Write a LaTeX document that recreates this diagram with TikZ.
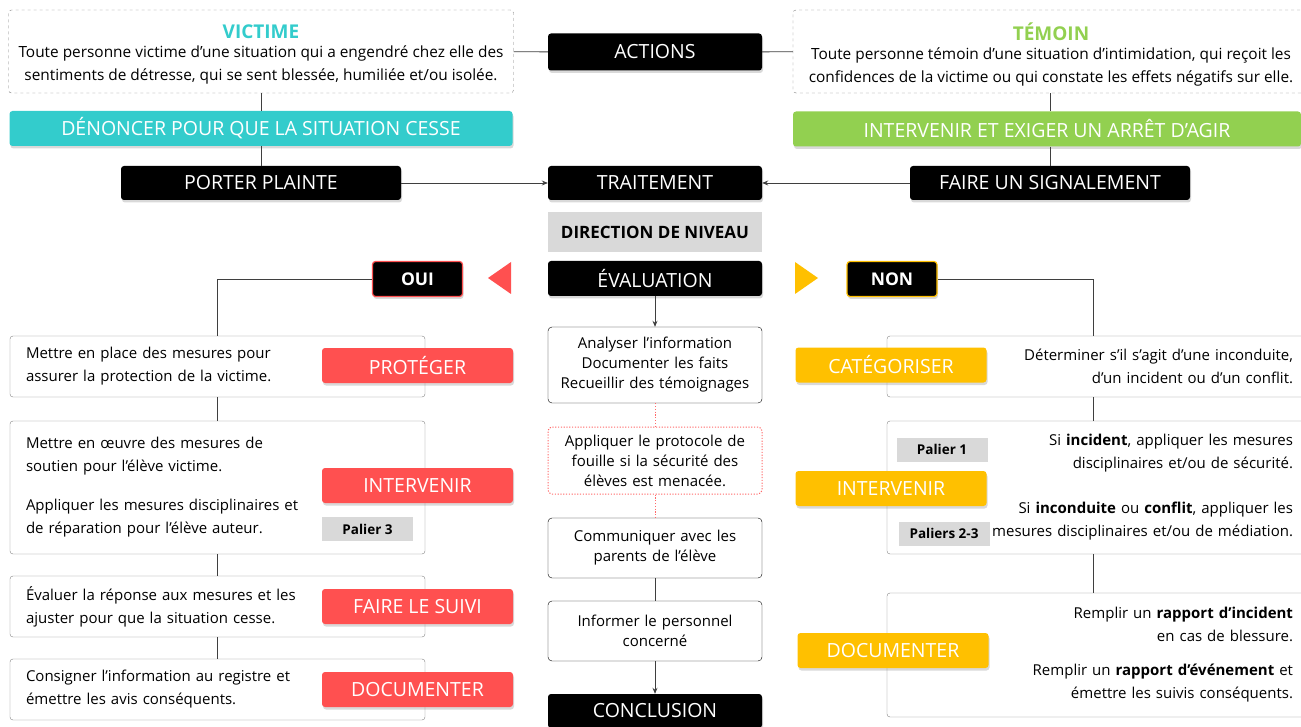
\documentclass[tikz,border=0pt]{standalone}
\usepackage{fontspec}
\setmainfont{Open Sans}
\usetikzlibrary{arrows.meta,shadows}
\definecolor{victcol}{HTML}{33CCCC}
\definecolor{temcol}{HTML}{92D050}
\definecolor{ouicol}{HTML}{FF5050}
\definecolor{noncol}{HTML}{FFC000}
\definecolor{palcol}{HTML}{D9D9D9}
\definecolor{linecol}{HTML}{3F3F3F}
\definecolor{bordcol}{HTML}{808080}
\newcommand{\fbody}{\fontsize{15}{23}\selectfont}
\newcommand{\ftop}{\fontsize{15.4}{23}\selectfont}
\newcommand{\fmid}{\fontsize{15}{20}\selectfont}
\newcommand{\flabel}{\fontsize{19.5}{21}\selectfont}
\newcommand{\fpalier}{\fontsize{13.5}{15}\selectfont\bfseries}
\newcommand{\ftitle}{\fontsize{19}{21}\selectfont\bfseries}
\tikzset{shade/.style={drop shadow={opacity=0.3, shadow xshift=1pt, shadow yshift=-2.5pt}},
blackbox/.style={fill=black, text=white, rounded corners=3pt, minimum width=214pt, minimum height=#1, inner sep=0pt, font=\flabel, shade},
blackbox/.default={35pt},
labelbox/.style={fill=#1, text=white, rounded corners=3pt, minimum width=191pt, minimum height=35pt, inner sep=0pt, font=\flabel, shade},
choice/.style={fill=black, text=white, draw=#1, line width=1.2pt, rounded corners=3pt, minimum width=90pt, minimum height=35pt, inner sep=0pt, font=\fontsize{17.5}{19}\selectfont\bfseries, shade},
dashbox/.style={draw=bordcol, dashed, rounded corners=3pt, minimum height=83pt, inner sep=0pt},
toptext/.style={align=center, font=\ftop, inner sep=0pt},
leftbox/.style={draw=bordcol, rounded corners=3pt, text width=383pt, inner xsep=16pt, inner ysep=0pt, align=left, font=\fbody, minimum height=#1},
rightbox/.style={draw=bordcol, rounded corners=3pt, text width=390pt, inner xsep=16pt, inner ysep=0pt, align=right, font=\fbody, minimum height=#1},
midbox/.style={draw=black, rounded corners=4pt, text width=204pt, inner xsep=5pt, inner ysep=0pt, align=center, font=\fmid, minimum height=#1},
palier/.style={fill=palcol, font=\fpalier, minimum width=91pt, minimum height=24pt, inner sep=0pt},
conn/.style={draw=linecol, line width=0.8pt},
arrow/.style={conn, -{Stealth[length=6pt,width=5pt]}},
redline/.style={draw=ouicol!85, line width=1pt, dash pattern=on 1.2pt off 1.6pt}}

\begin{document}
\begin{tikzpicture}[x=1pt,y=-1pt]
\useasboundingbox (0,0) rectangle (1301,727);
\clip (0,0) rectangle (1301,727);

% top row
\node[dashbox, minimum width=505pt] (victime) at (261,51.5) {};
\node[toptext] (victimetxt) at (261,54.5)
  {{\ftitle\color{victcol}VICTIME}\\[-4pt]Toute personne victime d’une situation qui a engendré chez elle des\\sentiments de détresse, qui se sent blessée, humiliée et/ou isolée.};
\node[dashbox, minimum width=516pt] (temoin) at (1051,51.5) {};
\node[toptext] (temointxt) at (1051,54.5)
  {{\ftitle\color{temcol}TÉMOIN}\\[-4pt]Toute personne témoin d’une situation d’intimidation, qui reçoit les\\confidences de la victime ou qui constate les effets négatifs sur elle.};
\node[blackbox=37pt] (actions) at (655,52) {ACTIONS};

\node[labelbox=victcol, minimum width=503pt] (denoncer) at (261,128.5) {DÉNONCER POUR QUE LA SITUATION CESSE};
\node[labelbox=temcol, minimum width=508pt] (agir) at (1047,129) {INTERVENIR ET EXIGER UN ARRÊT D’AGIR};

\node[blackbox=34pt, minimum width=280pt] (plainte) at (261,183) {PORTER PLAINTE};
\node[blackbox=34pt] (traitement) at (655,183) {TRAITEMENT};
\node[blackbox=34pt, minimum width=280pt] (signal) at (1050,183) {FAIRE UN SIGNALEMENT};

\node[fill=palcol, minimum width=214pt, minimum height=40pt, font=\fontsize{17}{19}\selectfont\bfseries] (direction) at (655,232) {DIRECTION DE NIVEAU};
\node[blackbox] (evaluation) at (655,278.5) {ÉVALUATION};
\node[choice=ouicol] (oui) at (417.5,279) {OUI};
\node[choice=noncol] (non) at (892,279) {NON};
\fill[ouicol] (511,262) -- (511,294) -- (488,278) -- cycle;
\fill[noncol] (795,262) -- (795,294) -- (818,278) -- cycle;

% left column
\node[leftbox=61pt] (l1) at (217.5,366.5) {Mettre en place des mesures pour\\assurer la protection de la victime.};
\node[leftbox=133pt] (l2) at (217.5,487.5) {Mettre en œuvre des mesures de\\soutien pour l’élève victime.\\[16pt]Appliquer les mesures disciplinaires et\\de réparation pour l’élève auteur.};
\node[leftbox=61pt] (l3) at (217.5,606.5) {Évaluer la réponse aux mesures et les\\ajuster pour que la situation cesse.};
\node[leftbox=61pt] (l4) at (217.5,689.5) {Consigner l’information au registre et\\émettre les avis conséquents.};
\node[labelbox=ouicol] (proteger) at (417.5,365.5) {PROTÉGER};
\node[labelbox=ouicol] (interv) at (417.5,485.5) {INTERVENIR};
\node[palier] (palier3) at (367.5,529) {Palier 3};
\node[labelbox=ouicol] (suivi) at (417.5,606.5) {FAIRE LE SUIVI};
\node[labelbox=ouicol] (docl) at (417.5,689.5) {DOCUMENTER};

% middle column
\node[midbox=76pt] (c1) at (655,365) {Analyser l’information\\Documenter les faits\\Recueillir des témoignages};
\node[midbox=67pt, redline] (c2) at (655,460.5) {Appliquer le protocole de\\fouille si la sécurité des\\élèves est menacée.};
\node[midbox=60pt] (c3) at (655,548) {Communiquer avec les\\parents de l’élève};
\node[midbox=60pt] (c4) at (655,631) {Informer le personnel\\concerné};
\node[blackbox=34pt] (conclusion) at (655,711) {CONCLUSION};

% right column
\node[rightbox=61pt] (r1) at (1098,366.5) {Déterminer s’il s’agit d’une inconduite,\\d’un incident ou d’un conflit.};
\node[rightbox=133pt] (r2) at (1098,487.5) {Si \textbf{incident}, appliquer les mesures\\disciplinaires et/ou de sécurité.\\[22pt]Si \textbf{inconduite} ou \textbf{conflit}, appliquer les\\mesures disciplinaires et/ou de médiation.};
\node[rightbox=124pt] (r3) at (1098,655) {Remplir un \textbf{rapport d’incident}\\en cas de blessure.\\[11pt]Remplir un \textbf{rapport d’événement} et\\émettre les suivis conséquents.};
\node[labelbox=noncol] (categ) at (891,365) {CATÉGORISER};
\node[palier] (palier1) at (942,449.5) {Palier 1};
\node[labelbox=noncol] (intervr) at (891,488.5) {INTERVENIR};
\node[palier] (palier23) at (944,533.5) {Paliers 2-3};
\node[labelbox=noncol] (docr) at (893,650.5) {DOCUMENTER};

% connectors
\coordinate (rdrop) at (1093,0);
\draw[conn] (victime) -- (actions);
\draw[conn] (actions) -- (temoin);
\draw[conn] (victime) -- (denoncer);
\draw[conn] (denoncer) -- (plainte);
\draw[conn] (temoin.south -| signal) -- (agir.north -| signal);
\draw[conn] (agir.south -| signal) -- (signal);
\draw[arrow] (plainte) -- (traitement);
\draw[arrow] (signal) -- (traitement);
\draw[arrow] (evaluation) -- (c1);
\draw[conn] (oui.west) -| (l1.north);
\draw[conn] (non.east) -| (rdrop |- r1.north);
\foreach \a/\b in {l1/l2,l2/l3,l3/l4}
    \draw[conn] (\a) -- (\b);
\foreach \a/\b in {r1/r2,r2/r3}
    \draw[conn] (rdrop |- \a.south) -- (rdrop |- \b.north);
\draw[redline] (c1) -- (c2);
\draw[redline] (c2) -- (c3);
\draw[conn] (c3) -- (c4);
\draw[arrow] (c4) -- (conclusion);

\end{tikzpicture}
\end{document}
